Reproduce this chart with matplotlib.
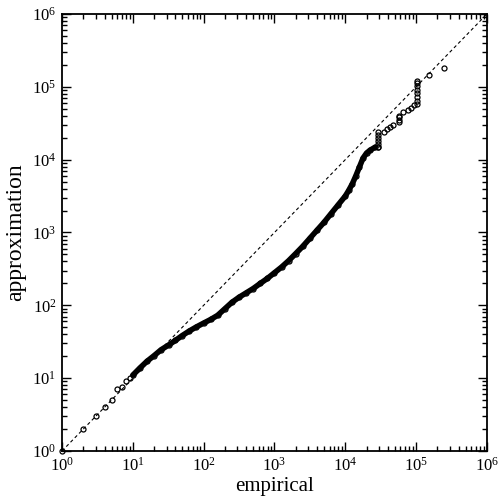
import numpy as np
import matplotlib
matplotlib.use("Agg")
import matplotlib.pyplot as plt
from matplotlib.ticker import LogLocator, NullFormatter

plt.rcParams['font.family'] = ['Liberation Serif', 'DejaVu Serif']
plt.rcParams['mathtext.fontset'] = 'custom'
plt.rcParams['mathtext.rm'] = 'Liberation Serif'
plt.rcParams['mathtext.it'] = 'Liberation Serif:italic'

# isolated points at the low end
low_emp = [1, 2, 3, 4, 5, 6, 7, 8, 9]
low_app = [1, 2, 3, 4, 5, 7, 7.5, 9, 10]

# dense part of the curve
dense_emp = [10, 12.6, 15.8, 20, 25, 32, 40, 50, 63, 79, 100, 126, 158, 200, 251,
             316, 398, 501, 631, 794, 1000, 1259, 1585, 1995, 2512, 3162, 3981,
             5012, 6310, 7943, 10000, 11220, 12589, 14125, 15849, 17783, 19953,
             22387, 26300]
dense_app = [11, 13.8, 17, 20.4, 24.5, 28.5, 33, 38.5, 44.5, 50.5, 57, 64,
             73, 90, 110, 129, 148, 170, 200, 234, 280, 335, 410, 513, 646,
             832, 1072, 1380, 1820, 2399, 3162, 3802, 4677, 6026, 7943, 10471,
             12303, 13490, 14791]

# isolated points in the tail
tail_emp = [29400, 29400, 29400, 29400, 29400, 29400, 29400,
            34700, 38500, 42700, 47900,
            58200, 58200, 58200, 58200,
            66100, 75900, 84100, 93300,
            102000, 102000, 102000, 102000, 102000, 102000, 102000, 102000,
            150000, 248000]
tail_app = [14700, 15100, 16600, 18200, 20000, 21900, 24300,
            24300, 26500, 28500, 30200,
            33100, 35500, 38000, 39800,
            45700, 48300, 50900, 56600,
            57500, 64600, 72400, 81300, 91200, 102000, 112000, 120000,
            146000, 184000]

diag = [1, 1e6]

fig = plt.figure(figsize=(5.02, 4.98), dpi=100)
ax = fig.add_axes([0.1235, 0.0944, 0.8465, 0.8775])

ax.plot(diag, diag, color='black', lw=0.8, dashes=(3, 2.5))

mk = dict(marker='o', ms=3.6, mfc='none', mec='black', mew=0.9, ls='none',
          clip_on=False, zorder=3)
ax.plot(low_emp, low_app, **mk)
ax.plot(dense_emp, dense_app, color='black', lw=4.0, solid_capstyle='round')
ax.plot(dense_emp, dense_app, **mk)
ax.plot(tail_emp, tail_app, **mk)

ax.set_xscale('log')
ax.set_yscale('log')
ax.set_xlim(1, 1e6)
ax.set_ylim(1, 1e6)

for axis in (ax.xaxis, ax.yaxis):
    axis.set_major_locator(LogLocator(base=10, numticks=10))
    axis.set_minor_locator(LogLocator(base=10, subs=np.arange(2, 10), numticks=100))
    axis.set_minor_formatter(NullFormatter())

ax.tick_params(which='both', direction='in', top=True, right=True, width=1.0)
ax.tick_params(which='major', length=6.5, labelsize=12, pad=4)
ax.tick_params(which='minor', length=3.5)
for s in ax.spines.values():
    s.set_linewidth(1.3)

ax.set_xlabel('empirical', fontsize=15, labelpad=2)
ax.set_ylabel('approximation', fontsize=17, labelpad=4)

fig.savefig('out.png', dpi=100)
